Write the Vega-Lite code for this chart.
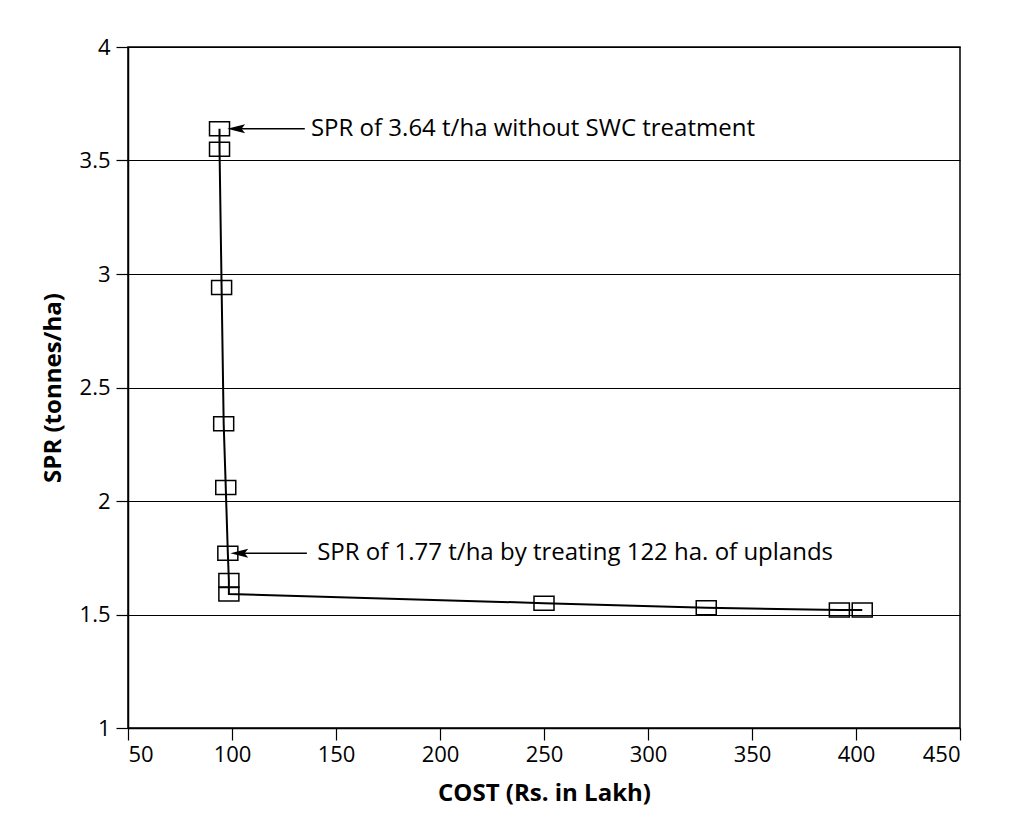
{
  "$schema": "https://vega.github.io/schema/vega-lite/v6.json",
  "autosize": "none",
  "width": 832,
  "height": 681,
  "padding": {"left": 128, "top": 47, "right": 61, "bottom": 111},
  "background": "white",
  "config": {
    "font": "Open Sans",
    "view": {"stroke": "black", "strokeWidth": 1.5},
    "axis": {
      "domainColor": "black", "domainWidth": 1.5,
      "tickColor": "black", "tickWidth": 1.2, "tickSize": 12,
      "labelColor": "black", "labelFontSize": 22, "labelFont": "Open Sans",
      "titleColor": "black", "titleFontSize": 24, "titleFont": "Open Sans", "titleFontWeight": "bold",
      "gridColor": "black", "gridWidth": 1, "gridOpacity": 1
    }
  },
  "datasets": {
    "pts": [
      {"i": 1, "cost": 94, "spr": 3.64},
      {"i": 2, "cost": 94, "spr": 3.55},
      {"i": 3, "cost": 95, "spr": 2.94},
      {"i": 4, "cost": 96, "spr": 2.34},
      {"i": 5, "cost": 97, "spr": 2.06},
      {"i": 6, "cost": 98, "spr": 1.77},
      {"i": 7, "cost": 98.5, "spr": 1.65},
      {"i": 8, "cost": 98.5, "spr": 1.59},
      {"i": 9, "cost": 250, "spr": 1.55},
      {"i": 10, "cost": 328, "spr": 1.53},
      {"i": 11, "cost": 392, "spr": 1.52},
      {"i": 12, "cost": 403, "spr": 1.52}
    ],
    "notes": [
      {"tip": 102, "start": 135, "tx": 137, "spr": 3.64, "label": "SPR of 3.64 t/ha without SWC treatment"},
      {"tip": 103.5, "start": 136, "tx": 140, "spr": 1.77, "label": "SPR of 1.77 t/ha by treating 122 ha. of uplands"}
    ]
  },
  "layer": [
    {
      "data": {"name": "pts"},
      "mark": {"type": "line", "color": "black", "strokeWidth": 2},
      "encoding": {
        "x": {"field": "cost", "type": "quantitative", "scale": {"domain": [50, 450], "nice": false},
              "axis": {"values": [50,100,150,200,250,300,350,400,450], "grid": false, "title": "COST (Rs. in Lakh)", "titlePadding": 16, "labelPadding": 4}},
        "y": {"field": "spr", "type": "quantitative", "scale": {"domain": [1, 4], "nice": false, "zero": false},
              "axis": {"values": [1,1.5,2,2.5,3,3.5,4], "format": "~g", "grid": true, "title": "SPR (tonnes/ha)", "titlePadding": 14, "labelPadding": 6}},
        "order": {"field": "i", "type": "quantitative"}
      }
    },
    {
      "data": {"name": "pts"},
      "mark": {"type": "point", "shape": "M-1,-0.7H1V0.7H-1Z", "filled": false, "stroke": "black", "strokeWidth": 1.5, "size": 400, "opacity": 1},
      "encoding": {
        "x": {"field": "cost", "type": "quantitative"},
        "y": {"field": "spr", "type": "quantitative"}
      }
    },
    {
      "data": {"name": "notes"},
      "mark": {"type": "rule", "color": "black", "strokeWidth": 1.5},
      "encoding": {
        "x": {"field": "tip", "type": "quantitative"},
        "x2": {"field": "start"},
        "y": {"field": "spr", "type": "quantitative"}
      }
    },
    {
      "data": {"name": "notes"},
      "mark": {"type": "point", "shape": "M-1,0L1,-0.5L0.6,0L1,0.5Z", "filled": true, "color": "black", "size": 320, "opacity": 1},
      "encoding": {
        "x": {"field": "tip", "type": "quantitative"},
        "y": {"field": "spr", "type": "quantitative"}
      }
    },
    {
      "data": {"name": "notes"},
      "mark": {"type": "text", "align": "left", "baseline": "middle", "fontSize": 24, "font": "Open Sans", "color": "black", "dx": 2},
      "encoding": {
        "x": {"field": "tx", "type": "quantitative"},
        "y": {"field": "spr", "type": "quantitative"},
        "text": {"field": "label"}
      }
    }
  ]
}
